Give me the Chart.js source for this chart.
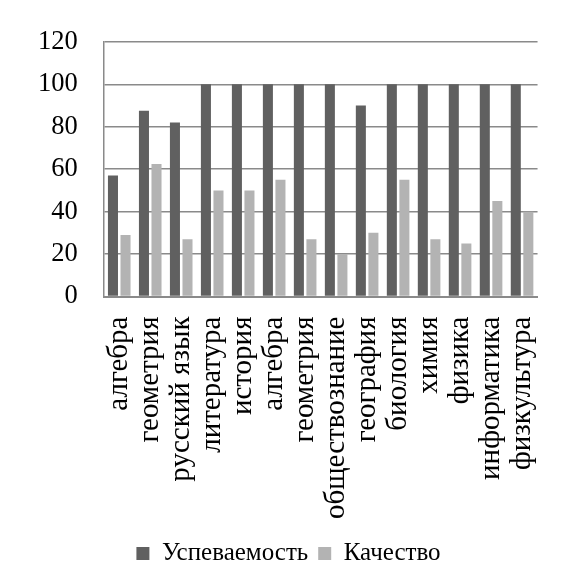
<!DOCTYPE html>
<html>
<head>
<meta charset="utf-8">
<script src="https://cdn.jsdelivr.net/npm/chart.js@4"></script>
<style>
  html, body { margin: 0; padding: 0; background: #fff; overflow: hidden; }
  #chart { display: block; }
</style>
</head>
<body>
<canvas id="chart" width="569" height="576"></canvas>
<script>
// subjects (the last one is cut off at the right edge in the source picture)
const subjects = [
  "алгебра", "геометрия", "русский язык", "литература", "история",
  "алгебра", "геометрия", "обществознание", "география", "биология",
  "химия", "физика", "информатика", "физкультура"
];
const uspevaemost = [57, 87.5, 82, 100, 100, 100, 100, 100, 90, 100, 100, 100, 100, 100];
const kachestvo   = [29, 62.5, 27, 50, 50, 55, 27, 20, 30, 55, 27, 25, 45, 40];
const yMax = 120;
const yStep = 20;

const gridColor = "#8a8a8a";

// pick font sizes so the text lengths match the picture
function fitSize(text, targetPx) {
  const ctx = document.createElement("canvas").getContext("2d");
  ctx.font = '24px "Liberation Serif"';
  return Math.round(24 * targetPx / ctx.measureText(text).width * 2) / 2;
}

const labelSize = fitSize("обществознание", 204);
const legendSize = fitSize("Успеваемость", 145);
const tickSize = fitSize("120", 40);

Chart.defaults.font.family = '"Liberation Serif"';
Chart.defaults.color = "#000";

new Chart(document.getElementById("chart"), {
  type: "bar",
  data: {
    labels: subjects,
    datasets: [
      { label: "Успеваемость", data: uspevaemost, backgroundColor: "#606060",
        categoryPercentage: 0.81, barPercentage: 0.8 },
      { label: "Качество", data: kachestvo, backgroundColor: "#b3b3b3",
        categoryPercentage: 0.81, barPercentage: 0.8 }
    ]
  },
  options: {
    responsive: false,
    animation: false,
    layout: { padding: { top: 4, left: 12, right: 4, bottom: 0 } },
    plugins: {
      tooltip: { enabled: false },
      legend: {
        position: "bottom",
        labels: {
          color: "#000",
          font: { family: '"Liberation Serif"', size: legendSize },
          boxWidth: 13, boxHeight: 13, padding: 10
        }
      }
    },
    scales: {
      y: {
        min: 0, max: yMax,
        ticks: { stepSize: yStep, color: "#000", font: { family: '"Liberation Serif"', size: tickSize }, padding: 26 },
        grid: { color: gridColor, lineWidth: 1.5, drawTicks: false },
        border: { display: true, color: gridColor, width: 1.5 }
      },
      x: {
        ticks: { color: "#000", font: { family: '"Liberation Serif"', size: labelSize }, maxRotation: 90, minRotation: 90, padding: 12, autoSkip: false },
        grid: { display: false },
        border: { display: true, color: gridColor, width: 2 }
      }
    }
  }
});
</script>
</body>
</html>
